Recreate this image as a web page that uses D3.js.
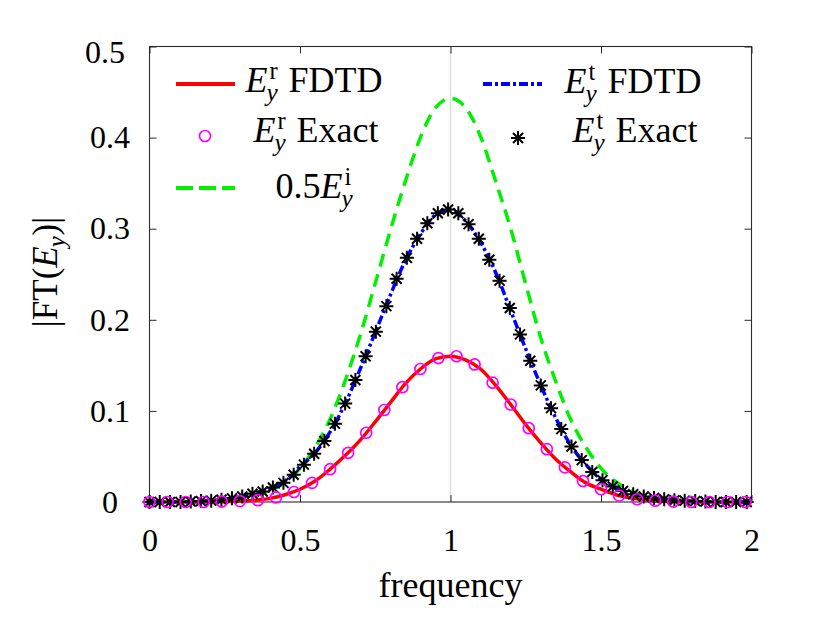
<!DOCTYPE html>
<html>
<head>
<meta charset="utf-8">
<script src="https://cdn.jsdelivr.net/npm/d3@7"></script>
<style>
  body { margin: 0; background: #fff; }
  text { font-family: "Liberation Serif", "Times New Roman", serif; fill: #000; }
</style>
</head>
<body>
<div class="vis-spectrum"></div>
<script>
// FDTD curves, sampled every 0.05
const freqLine = [0, 0.05, 0.1, 0.15, 0.2, 0.25, 0.3, 0.35, 0.4, 0.45, 0.5, 0.55, 0.6, 0.65, 0.7, 0.75, 0.8, 0.85, 0.9, 0.95,
  1, 1.05, 1.1, 1.15, 1.2, 1.25, 1.3, 1.35, 1.4, 1.45, 1.5, 1.55, 1.6, 1.65, 1.7, 1.75, 1.8, 1.85, 1.9, 1.95, 2];
const reflFDTD = [0, 0, 0, 0, 0, 0.0005, 0.001, 0.002, 0.004, 0.008, 0.014, 0.023, 0.036, 0.051, 0.068, 0.088, 0.109, 0.13, 0.146, 0.157,
  0.16, 0.156, 0.146, 0.128, 0.107, 0.085, 0.065, 0.047, 0.033, 0.021, 0.014, 0.008, 0.0045, 0.002, 0.001, 0.0005, 0, 0, 0, 0, 0];
const transFDTD = [0, 0, 0, 0.0007, 0.0015, 0.0032, 0.0055, 0.0095, 0.015, 0.023, 0.039, 0.054, 0.077, 0.108, 0.146, 0.186, 0.227, 0.265, 0.294, 0.315,
  0.3205, 0.3085, 0.285, 0.252, 0.21, 0.168, 0.128, 0.092, 0.062, 0.041, 0.025, 0.015, 0.009, 0.0055, 0.0035, 0.002, 0.001, 0.0005, 0, 0, 0];
const incHalf = [0, 0, 0, 0, 0.0005, 0.0015, 0.0035, 0.007, 0.0126, 0.022, 0.037, 0.06, 0.091, 0.133, 0.183, 0.24, 0.298, 0.352, 0.4, 0.433,
  0.443, 0.433, 0.401, 0.352, 0.3, 0.239, 0.18, 0.132, 0.09, 0.06, 0.037, 0.022, 0.012, 0.0065, 0.0035, 0.002, 0.001, 0.0005, 0, 0, 0];

// exact reflected spectrum (circles)
const freqRefl = [0, 0.06, 0.12, 0.18, 0.24, 0.3, 0.36, 0.42, 0.48, 0.54, 0.6, 0.66, 0.72, 0.78, 0.84, 0.9, 0.96,
  1.02, 1.08, 1.14, 1.2, 1.26, 1.32, 1.38, 1.44, 1.5, 1.56, 1.62, 1.68, 1.74, 1.8, 1.86, 1.92, 1.98];
const reflExact = [0, 0, 0, 0, 0.0005, 0.001, 0.002, 0.005, 0.011, 0.021, 0.036, 0.054, 0.076, 0.101, 0.126, 0.146, 0.158,
  0.16, 0.151, 0.131, 0.107, 0.081, 0.058, 0.038, 0.023, 0.014, 0.007, 0.003, 0.0014, 0.0005, 0, 0, 0, 0];

// exact transmitted spectrum (stars)
const freqTrans = [0, 0.034, 0.068, 0.103, 0.137, 0.171, 0.205, 0.239, 0.274, 0.308, 0.342, 0.376, 0.41, 0.445, 0.479,
  0.513, 0.547, 0.581, 0.616, 0.65, 0.684, 0.718, 0.752, 0.787, 0.821, 0.855, 0.889, 0.923, 0.958, 0.992,
  1.026, 1.06, 1.094, 1.129, 1.163, 1.197, 1.231, 1.265, 1.3, 1.334, 1.368, 1.402, 1.436, 1.471, 1.505,
  1.539, 1.573, 1.607, 1.642, 1.676, 1.71, 1.744, 1.778, 1.813, 1.847, 1.881, 1.915, 1.949, 1.984];
const transExact = [0, 0, 0, 0, 0.0005, 0.001, 0.0015, 0.0025, 0.004, 0.006, 0.009, 0.0115, 0.016, 0.021, 0.03,
  0.041, 0.053, 0.067, 0.086, 0.108, 0.134, 0.16, 0.187, 0.215, 0.245, 0.268, 0.289, 0.306, 0.317, 0.321,
  0.317, 0.305, 0.289, 0.266, 0.243, 0.213, 0.184, 0.155, 0.128, 0.103, 0.08, 0.061, 0.046, 0.033, 0.024,
  0.017, 0.012, 0.0085, 0.006, 0.0045, 0.003, 0.002, 0.0015, 0.001, 0.0005, 0, 0, 0, 0];

const xTicks = [0, 0.5, 1, 1.5, 2];
const xTickLabels = ["0", "0.5", "1", "1.5", "2"];
const yTicks = [0, 0.1, 0.2, 0.3, 0.4, 0.5];
const yTickLabels = ["0", "0.1", "0.2", "0.3", "0.4", "0.5"];

const width = 831, height = 624;
const margin = { top: 46.5, right: 79.5, bottom: 122, left: 149.5 };

const svg = d3.select(".vis-spectrum")
  .append("svg")
  .attr("width", width)
  .attr("height", height);

const x = d3.scaleLinear().domain([0, 2]).range([margin.left, width - margin.right]);
const y = d3.scaleLinear().domain([0, 0.5]).range([height - margin.bottom, margin.top]);

// x = 1 reference line
svg.append("line")
  .attr("x1", x(1)).attr("x2", x(1))
  .attr("y1", y(0.5)).attr("y2", y(0))
  .attr("stroke", "#dedede")
  .attr("stroke-width", 1.5);

// axes with inward ticks on all four sides
const tick = 7;
const xAxis = svg.append("g")
  .attr("transform", "translate(0," + y(0) + ")")
  .call(d3.axisBottom(x).tickValues(xTicks).tickFormat((d, i) => xTickLabels[i]).tickSize(-tick));
xAxis.selectAll("text").attr("y", 49).attr("dy", null).style("font-size", "32px");

svg.append("g")
  .attr("transform", "translate(0," + y(0.5) + ")")
  .call(d3.axisTop(x).tickValues(xTicks).tickFormat("").tickSize(-tick));

const yAxis = svg.append("g")
  .attr("transform", "translate(" + x(0) + ",0)")
  .call(d3.axisLeft(y).tickValues(yTicks).tickFormat((d, i) => yTickLabels[i]).tickSize(-tick));
yAxis.selectAll("text")
  .attr("x", -39.5)
  .attr("text-anchor", "middle")
  .style("font-size", "32px");
yAxis.selectAll(".tick").filter(d => d === 0.5).select("text").attr("dx", -5).attr("dy", "0.5em");

svg.append("g")
  .attr("transform", "translate(" + x(2) + ",0)")
  .call(d3.axisRight(y).tickValues(yTicks).tickFormat("").tickSize(-tick));

svg.selectAll(".domain").remove();
svg.selectAll(".tick line").attr("stroke", "#2b2b2b");

svg.append("rect")
  .attr("x", x(0)).attr("y", y(0.5))
  .attr("width", x(2) - x(0)).attr("height", y(0) - y(0.5))
  .attr("fill", "none")
  .attr("stroke", "#2b2b2b")
  .attr("stroke-width", 1.1);

// curves
const line = d3.line()
  .x(d => x(d[0]))
  .y(d => y(d[1]))
  .curve(d3.curveMonotoneX);

const zip = (fs, vs) => fs.map((f, i) => [f, vs[i]]);

const styles = {
  refl: { color: "#ff0000", dash: null },
  inc: { color: "#00f000", dash: "13,8" },
  trans: { color: "#0000ff", dash: "9,3,3,3" }
};

svg.append("path")
  .datum(zip(freqLine, incHalf))
  .attr("d", line)
  .attr("fill", "none")
  .attr("stroke", styles.inc.color)
  .attr("stroke-width", 3.5)
  .attr("stroke-dasharray", styles.inc.dash);

svg.append("path")
  .datum(zip(freqLine, reflFDTD))
  .attr("d", line)
  .attr("fill", "none")
  .attr("stroke", styles.refl.color)
  .attr("stroke-width", 3.5);

svg.append("path")
  .datum(zip(freqLine, transFDTD))
  .attr("d", line)
  .attr("fill", "none")
  .attr("stroke", styles.trans.color)
  .attr("stroke-width", 3.5)
  .attr("stroke-dasharray", styles.trans.dash);

const starPath = "M-7,0H7M0,-7V7M-5,-5L5,5M-5,5L5,-5";

svg.append("g")
  .selectAll("path")
  .data(zip(freqTrans, transExact))
  .enter()
  .append("path")
  .attr("transform", d => "translate(" + x(d[0]) + "," + y(d[1]) + ")")
  .attr("d", starPath)
  .attr("stroke", "#000")
  .attr("stroke-width", 2)
  .attr("fill", "none");

svg.append("g")
  .selectAll("circle")
  .data(zip(freqRefl, reflExact))
  .enter()
  .append("circle")
  .attr("cx", d => x(d[0]))
  .attr("cy", d => y(d[1]))
  .attr("r", 5.5)
  .attr("fill", "none")
  .attr("stroke", "#ff00ff")
  .attr("stroke-width", 1.7);

// one <text> per label; E with stacked super/subscript done with tspans
const drawMath = (parent, parts, cx, by, size) => {
  const t = parent.append("text")
    .attr("x", cx).attr("y", by)
    .attr("text-anchor", "middle")
    .style("font-size", size + "px");
  const rise = size * 0.36, drop = size * 0.24;
  let cur = 0, pending = 0;
  parts.forEach(p => {
    if (p.gap) { pending += p.gap; return; }
    if (p.sup !== undefined || p.sub !== undefined) {
      let supW = 0;
      if (p.sup) {
        const a = t.append("tspan").attr("dx", pending + 2).attr("dy", -rise - cur)
          .style("font-size", (size * 0.68) + "px").text(p.sup);
        supW = a.node().getComputedTextLength() + 2;
        cur = -rise;
        pending = -supW - 1;
      } else {
        pending -= 1;
      }
      const b = t.append("tspan").attr("dx", pending).attr("dy", drop - cur)
        .style("font-size", (size * 0.7) + "px").style("font-style", "italic").text(p.sub);
      const subW = b.node().getComputedTextLength() - 1;
      cur = drop;
      pending = Math.max(supW, subW) + 1 - subW;
      return;
    }
    t.append("tspan").attr("dx", pending).attr("dy", -cur)
      .style("font-style", p.it ? "italic" : "normal")
      .text(p.t);
    cur = 0;
    pending = 0;
  });
  return t;
};

// legend
const legend = svg.append("g");
const lsize = 36;

legend.append("line").attr("x1", 176).attr("x2", 235).attr("y1", 84).attr("y2", 84)
  .attr("stroke", styles.refl.color).attr("stroke-width", 4);
drawMath(legend, [{ t: "E", it: true }, { sup: "r", sub: "y" }, { gap: 10 }, { t: "FDTD" }], 314, 92, lsize);

legend.append("circle").attr("cx", 205).attr("cy", 136).attr("r", 5.5)
  .attr("fill", "none").attr("stroke", "#ff00ff").attr("stroke-width", 1.7);
drawMath(legend, [{ t: "E", it: true }, { sup: "r", sub: "y" }, { gap: 10 }, { t: "Exact" }], 316, 142, lsize);

legend.append("line").attr("x1", 176).attr("x2", 235).attr("y1", 188).attr("y2", 188)
  .attr("stroke", styles.inc.color).attr("stroke-width", 4).attr("stroke-dasharray", "17,6");
drawMath(legend, [{ t: "0.5" }, { t: "E", it: true }, { sup: "i", sub: "y" }], 314, 198, lsize);

legend.append("line").attr("x1", 483).attr("x2", 542).attr("y1", 84).attr("y2", 84)
  .attr("stroke", styles.trans.color).attr("stroke-width", 4).attr("stroke-dasharray", "9,3,3,3");
drawMath(legend, [{ t: "E", it: true }, { sup: "t", sub: "y" }, { gap: 10 }, { t: "FDTD" }], 633, 93, lsize);

legend.append("path").attr("transform", "translate(518,138)").attr("d", starPath)
  .attr("stroke", "#000").attr("stroke-width", 2);
drawMath(legend, [{ t: "E", it: true }, { sup: "t", sub: "y" }, { gap: 10 }, { t: "Exact" }], 635, 142, lsize);

// axis titles
svg.append("text")
  .attr("x", (x(0) + x(2)) / 2)
  .attr("y", 597)
  .attr("text-anchor", "middle")
  .style("font-size", "36px")
  .text("frequency");

const ylab = svg.append("g").attr("transform", "translate(57,272) rotate(-90)");
drawMath(ylab, [{ t: "|FT(" }, { t: "E", it: true }, { sub: "y" }, { t: ")|" }], 0, 0, 35);
</script>
</body>
</html>
